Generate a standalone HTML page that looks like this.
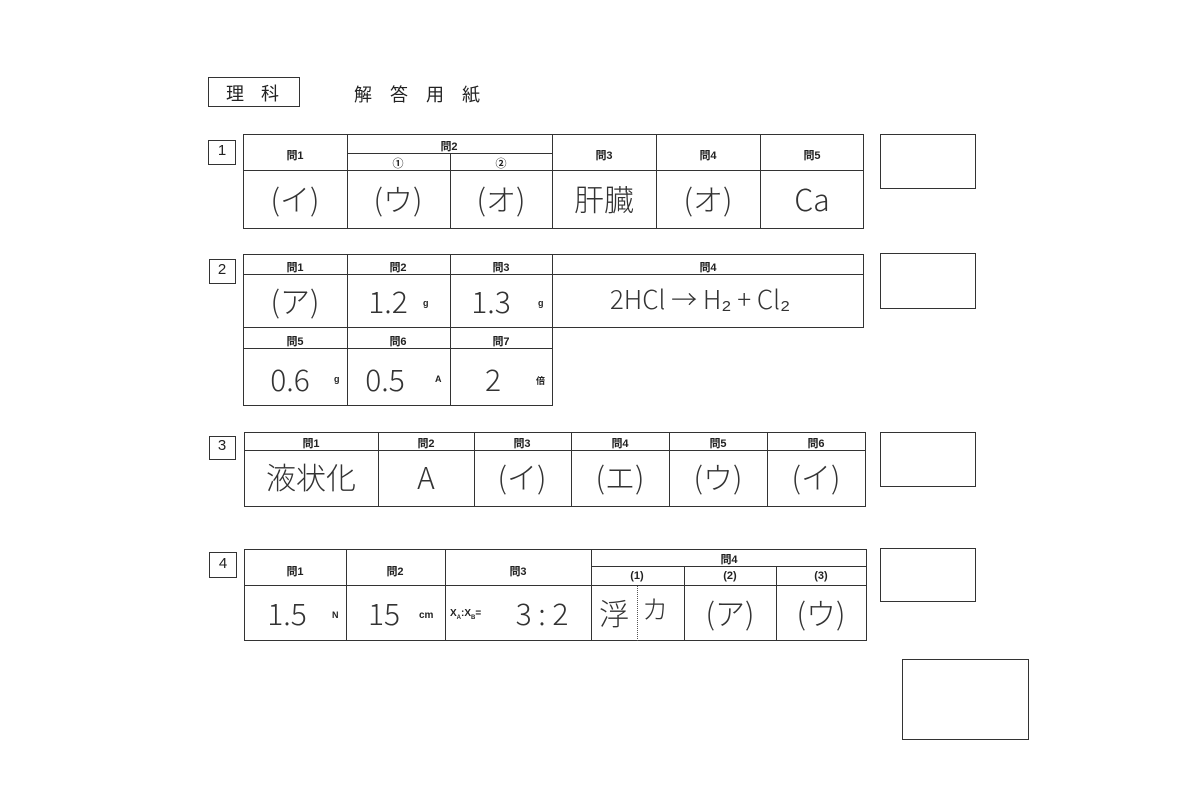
<!DOCTYPE html>
<html><head><meta charset="utf-8"><style>
body{margin:0;width:1200px;height:800px;background:#fff;position:relative;overflow:hidden;font-family:"Liberation Sans","Noto Sans CJK JP",sans-serif;color:#222}
.b{position:absolute;border:1.5px solid #333;box-sizing:border-box}
.h{position:absolute;height:0;border-top:1.5px solid #333}
.v{position:absolute;width:0;border-left:1.5px solid #333}
.t{position:absolute;text-align:center;white-space:nowrap;transform:translateX(-50%)}
.s{font-size:11px;font-weight:bold}
.a{font-size:30px;font-weight:300;color:#333;font-family:"Noto Sans CJK JP","Liberation Sans",sans-serif;margin-top:-4px}
.u{position:absolute;font-size:9px;font-weight:bold}
</style></head><body>
<div class="b" style="left:208px;top:77px;width:92px;height:30px"></div>
<div style="position:absolute;left:226px;top:80px;font-size:18px;letter-spacing:17px;font-family:'Noto Sans CJK JP',sans-serif">理科</div>
<div style="position:absolute;left:354px;top:81px;font-size:18px;letter-spacing:18px;font-family:'Noto Sans CJK JP',sans-serif">解答用紙</div>

<!-- 1 -->
<div class="b" style="left:208px;top:140px;width:28px;height:25px"></div><div class="t" style="left:222px;top:142px;font-size:15px">1</div>
<div class="b" style="left:243px;top:134px;width:621px;height:95px"></div>
<div class="h" style="left:243px;top:170px;width:621px"></div>
<div class="h" style="left:347px;top:153px;width:205px"></div>
<div class="v" style="left:347px;top:134px;height:95px"></div>
<div class="v" style="left:450px;top:153px;height:76px"></div>
<div class="v" style="left:552px;top:134px;height:95px"></div>
<div class="v" style="left:656px;top:134px;height:95px"></div>
<div class="v" style="left:760px;top:134px;height:95px"></div>
<div class="t s" style="left:295px;top:147px">問1</div>
<div class="t s" style="left:449px;top:138px">問2</div>
<div class="t s" style="left:398px;top:155px">①</div>
<div class="t s" style="left:501px;top:155px">②</div>
<div class="t s" style="left:604px;top:147px">問3</div>
<div class="t s" style="left:708px;top:147px">問4</div>
<div class="t s" style="left:812px;top:147px">問5</div>
<div class="t a" style="left:295px;top:180px">(イ)</div>
<div class="t a" style="left:398px;top:180px">(ウ)</div>
<div class="t a" style="left:501px;top:180px">(オ)</div>
<div class="t a" style="left:604px;top:180px">肝臓</div>
<div class="t a" style="left:708px;top:180px">(オ)</div>
<div class="t a" style="left:812px;top:180px">Ca</div>
<div class="b" style="left:880px;top:134px;width:96px;height:55px"></div>

<!-- 2 -->
<div class="b" style="left:209px;top:259px;width:27px;height:25px"></div><div class="t" style="left:222px;top:261px;font-size:15px">2</div>
<div class="b" style="left:243px;top:254px;width:621px;height:74px"></div>
<div class="h" style="left:243px;top:274px;width:621px"></div>
<div class="v" style="left:347px;top:254px;height:152px"></div>
<div class="v" style="left:450px;top:254px;height:152px"></div>
<div class="v" style="left:552px;top:254px;height:74px"></div>
<div class="b" style="left:243px;top:327px;width:310px;height:79px"></div>
<div class="h" style="left:243px;top:348px;width:310px"></div>
<div class="t s" style="left:295px;top:259px">問1</div>
<div class="t s" style="left:398px;top:259px">問2</div>
<div class="t s" style="left:501px;top:259px">問3</div>
<div class="t s" style="left:708px;top:259px">問4</div>
<div class="t s" style="left:295px;top:333px">問5</div>
<div class="t s" style="left:398px;top:333px">問6</div>
<div class="t s" style="left:501px;top:333px">問7</div>
<div class="t a" style="left:295px;top:282px">(ア)</div>
<div class="t a" style="left:388px;top:282px">1.2</div><div class="u" style="left:423px;top:298px">g</div>
<div class="t a" style="left:491px;top:282px">1.3</div><div class="u" style="left:538px;top:298px">g</div>
<div class="t a" style="left:700px;top:284px;font-size:26px">2HCl → H₂ + Cl₂</div>
<div class="t a" style="left:290px;top:360px">0.6</div><div class="u" style="left:334px;top:374px">g</div>
<div class="t a" style="left:385px;top:360px">0.5</div><div class="u" style="left:435px;top:374px">A</div>
<div class="t a" style="left:493px;top:360px">2</div><div class="u" style="left:536px;top:374px">倍</div>
<div class="b" style="left:880px;top:253px;width:96px;height:56px"></div>

<!-- 3 -->
<div class="b" style="left:209px;top:436px;width:27px;height:24px"></div><div class="t" style="left:222px;top:437px;font-size:15px">3</div>
<div class="b" style="left:244px;top:432px;width:622px;height:75px"></div>
<div class="h" style="left:244px;top:450px;width:622px"></div>
<div class="v" style="left:378px;top:432px;height:75px"></div>
<div class="v" style="left:474px;top:432px;height:75px"></div>
<div class="v" style="left:571px;top:432px;height:75px"></div>
<div class="v" style="left:669px;top:432px;height:75px"></div>
<div class="v" style="left:767px;top:432px;height:75px"></div>
<div class="t s" style="left:311px;top:435px">問1</div>
<div class="t s" style="left:426px;top:435px">問2</div>
<div class="t s" style="left:522px;top:435px">問3</div>
<div class="t s" style="left:620px;top:435px">問4</div>
<div class="t s" style="left:718px;top:435px">問5</div>
<div class="t s" style="left:816px;top:435px">問6</div>
<div class="t a" style="left:311px;top:458px">液状化</div>
<div class="t a" style="left:426px;top:458px">A</div>
<div class="t a" style="left:522px;top:458px">(イ)</div>
<div class="t a" style="left:620px;top:458px">(エ)</div>
<div class="t a" style="left:718px;top:458px">(ウ)</div>
<div class="t a" style="left:816px;top:458px">(イ)</div>
<div class="b" style="left:880px;top:432px;width:96px;height:55px"></div>

<!-- 4 -->
<div class="b" style="left:209px;top:552px;width:28px;height:26px"></div><div class="t" style="left:223px;top:555px;font-size:15px">4</div>
<div class="b" style="left:244px;top:549px;width:623px;height:92px"></div>
<div class="h" style="left:244px;top:585px;width:623px"></div>
<div class="h" style="left:591px;top:566px;width:276px"></div>
<div class="v" style="left:346px;top:549px;height:92px"></div>
<div class="v" style="left:445px;top:549px;height:92px"></div>
<div class="v" style="left:591px;top:549px;height:92px"></div>
<div class="v" style="left:684px;top:566px;height:75px"></div>
<div class="v" style="left:776px;top:566px;height:75px"></div>
<div style="position:absolute;left:637px;top:586px;height:55px;border-left:1px dotted #555"></div>
<div class="t s" style="left:295px;top:563px">問1</div>
<div class="t s" style="left:395px;top:563px">問2</div>
<div class="t s" style="left:518px;top:563px">問3</div>
<div class="t s" style="left:729px;top:551px">問4</div>
<div class="t s" style="left:637px;top:570px">(1)</div>
<div class="t s" style="left:730px;top:570px">(2)</div>
<div class="t s" style="left:821px;top:570px">(3)</div>
<div class="t a" style="left:287px;top:594px">1.5</div><div class="u" style="left:332px;top:610px">N</div>
<div class="t a" style="left:384px;top:594px">15</div><div class="u" style="left:419px;top:610px;font-size:10px">cm</div>
<div class="u" style="left:450px;top:608px;font-size:10px">X<sub style="font-size:6px">A</sub>:X<sub style="font-size:6px">B</sub>=</div>
<div class="t a" style="left:542px;top:594px">3 : 2</div>
<div class="t a" style="left:614px;top:594px">浮</div>
<div class="t a" style="left:655px;top:594px;font-size:26px">カ</div>
<div class="t a" style="left:730px;top:594px">(ア)</div>
<div class="t a" style="left:821px;top:594px">(ウ)</div>
<div class="b" style="left:880px;top:548px;width:96px;height:54px"></div>

<div class="b" style="left:902px;top:659px;width:127px;height:81px"></div>
</body></html>
